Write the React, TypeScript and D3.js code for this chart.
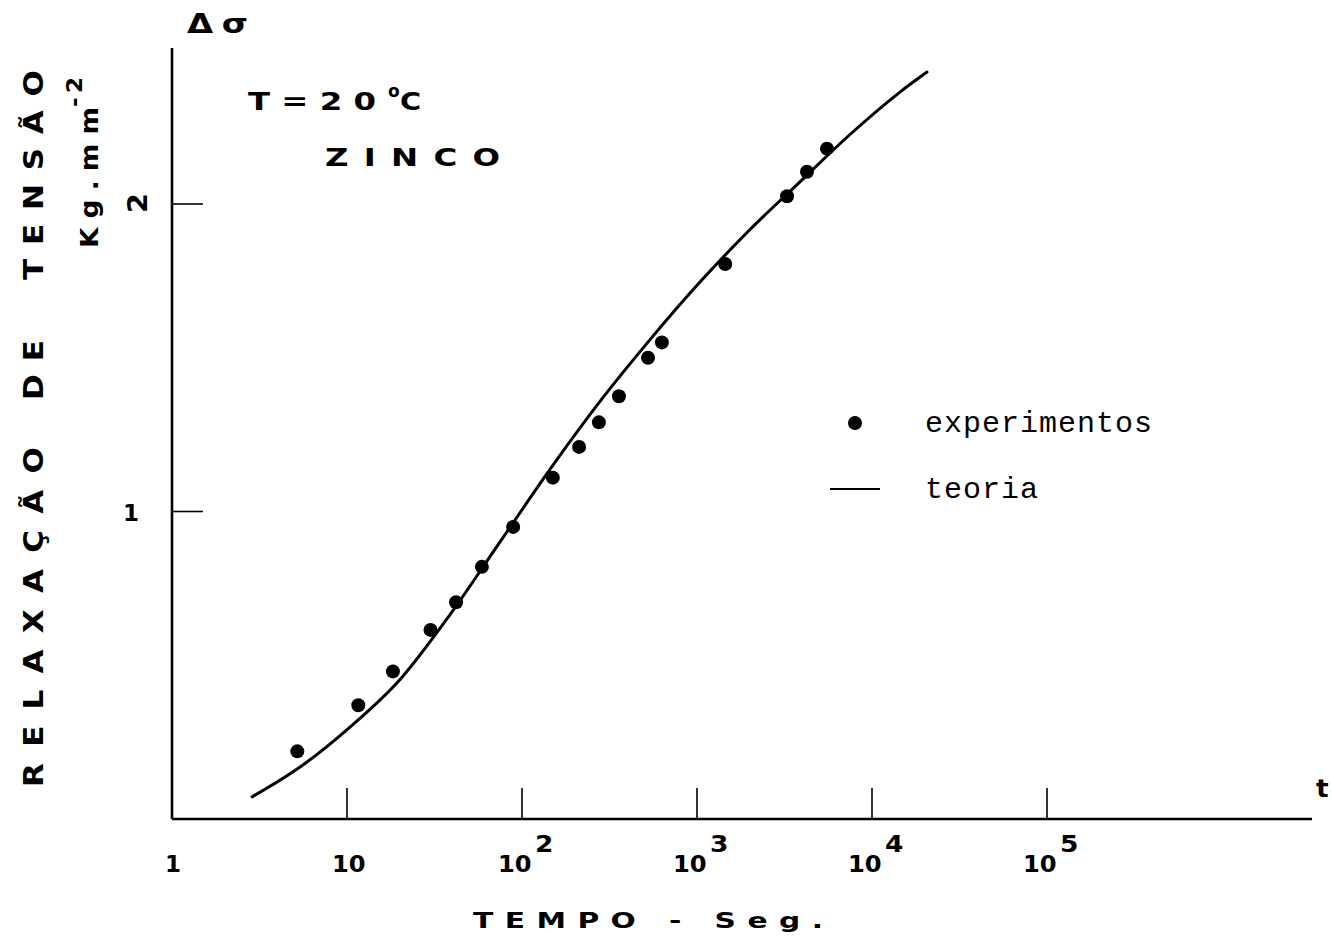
import React from 'react';
import * as d3 from 'd3';

// experimental points: time (s) and stress relaxation (kg/mm2)
const expTime = [5.2, 11.6, 18.3, 30, 42, 59, 89, 150, 212, 275, 358, 525, 630, 1450, 3270, 4250, 5530];
const expStress = [0.22, 0.37, 0.48, 0.615, 0.705, 0.82, 0.95, 1.11, 1.21, 1.29, 1.375, 1.5, 1.55, 1.805, 2.025, 2.105, 2.18];

// theoretical curve
const theoryTime = [2.87, 5.39, 10.4, 20.1, 38.8, 74.9, 144.5, 279, 539, 1040, 2009, 3878, 7486, 14454, 20610];
const theoryStress = [0.072, 0.169, 0.299, 0.454, 0.665, 0.901, 1.137, 1.358, 1.559, 1.746, 1.917, 2.072, 2.226, 2.364, 2.429];

const xTicks = [10, 100, 1000, 10000, 100000];
const xTickBase = ['10', '10', '10', '10', '10'];
const xTickExp = ['', '2', '3', '4', '5'];
const yTicks = [1, 2];

const W = 1332;
const H = 943;
const bold = "'DejaVu Sans', Verdana, sans-serif";
const mono = "'Courier New', 'Liberation Mono', monospace";

// bold, horizontally stretched lettering (like the transfer letters of the original)
const Wide = ({x, y, text, width, size, sx = 1.35, rot = 0}) => (
  <text transform={`translate(${x},${y}) rotate(${rot}) scale(${sx},1)`} fontFamily={bold}
        fontWeight="bold" fontSize={size} textLength={width ? width / sx : undefined}
        lengthAdjust="spacing">{text}</text>
);

const App = () => {
  const x = d3.scaleLog().domain([1, 1e5]).range([172, 1047]);
  const y = d3.scaleLinear().domain([0, 2]).range([819, 204]);

  const line = d3.line<number>()
    .x((i) => x(theoryTime[i]))
    .y((i) => y(theoryStress[i]))
    .curve(d3.curveMonotoneX);

  const x0 = x(1);
  const y0 = y(0);

  return (
    <svg width={W} height={H} style={{position: 'absolute', left: 0, top: 0, background: '#fff'}}>
      {/* axes */}
      <line x1={x0} y1={48} x2={x0} y2={y0} stroke="#000" strokeWidth={2.6} />
      <line x1={x0} y1={y0} x2={1312} y2={y0} stroke="#000" strokeWidth={2.6} />

      {xTicks.map((t, i) => (
        <g key={'xt' + t}>
          <line x1={x(t)} y1={y0} x2={x(t)} y2={y0 - 31} stroke="#000" strokeWidth={1.6} />
          <Wide x={xTickExp[i] ? x(t) - 24 : x(t) - 15} y={872} text={xTickBase[i]} size={23} sx={1.05} />
          {xTickExp[i] && <Wide x={x(t) + 13} y={852} text={xTickExp[i]} size={23} sx={1.15} />}
        </g>
      ))}
      <Wide x={x0 - 7} y={872} text="1" size={23} sx={1} />
      <Wide x={1316} y={797} text="t" size={24} sx={1.1} />

      {yTicks.map((v) => (
        <line key={'yt' + v} x1={x0} y1={y(v)} x2={x0 + 31} y2={y(v)} stroke="#000" strokeWidth={1.6} />
      ))}
      <Wide x={123} y={y(1) + 9} text="1" size={23} sx={1} />
      <Wide x={147} y={y(2) + 9} text="2" size={26} sx={1.1} rot={-90} />

      {/* axis titles */}
      <Wide x={43} y={787} text="RELAXAÇÃO" width={340} size={27} sx={1.15} rot={-90} />
      <Wide x={43} y={400} text="DE" width={60} size={27} sx={1.15} rot={-90} />
      <Wide x={43} y={280} text="TENSÃO" width={210} size={27} sx={1.15} rot={-90} />
      <Wide x={98} y={248} text="Kg.mm" width={141} size={24} sx={1.1} rot={-90} />
      <Wide x={82} y={107} text="-2" width={30} size={21} sx={1.1} rot={-90} />

      <Wide x={187} y={33} text="Δσ" width={61} size={26} sx={1.3} />

      <Wide x={473} y={928} text="TEMPO - Seg." width={350} size={22} sx={1.35} />

      {/* annotations */}
      <Wide x={248} y={110} text="T=20" width={128} size={24} sx={1.35} />
      <text x={388} y={97} fontFamily={bold} fontWeight="bold" fontSize={17}>o</text>
      <Wide x={400} y={110} text="C" size={24} sx={1.2} />
      <Wide x={325} y={166} text="ZINCO" width={175} size={24} sx={1.35} />

      {/* theory curve */}
      <path d={line(d3.range(theoryTime.length)) || ''} fill="none" stroke="#000" strokeWidth={3}
            strokeLinecap="round" />

      {/* experiments */}
      {expTime.map((t, i) => (
        <circle key={'p' + i} cx={x(t)} cy={y(expStress[i])} r={7} fill="#000" />
      ))}

      {/* legend */}
      <circle cx={855} cy={423} r={7} fill="#000" />
      <text x={925} y={432} fontFamily={mono} fontSize={30} textLength={227} lengthAdjust="spacing">experimentos</text>
      <line x1={830} y1={489} x2={880} y2={489} stroke="#000" strokeWidth={2} />
      <text x={925} y={498} fontFamily={mono} fontSize={30} textLength={113} lengthAdjust="spacing">teoria</text>
    </svg>
  );
};

export default App;
